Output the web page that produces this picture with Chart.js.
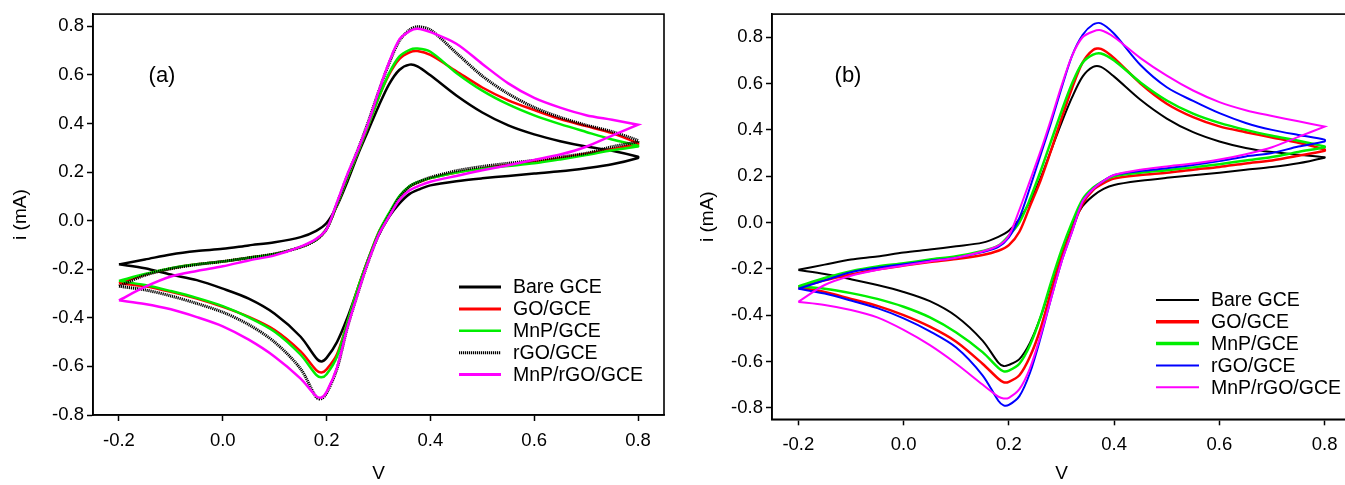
<!DOCTYPE html>
<html>
<head>
<meta charset="utf-8">
<script src="https://cdn.jsdelivr.net/npm/chart.js@4.4.1/dist/chart.umd.min.js"></script>
<style>
  html, body { margin: 0; padding: 0; background: #fff; overflow: hidden; }
  #wrap { position: relative; width: 1345px; height: 485px; overflow: hidden; }
  canvas { position: absolute; top: 0; }
  #cvA { left: 0; }
  #cvB { left: 680px; }
</style>
</head>
<body>
<div id="wrap">
  <canvas id="cvA" width="680" height="485"></canvas>
  <canvas id="cvB" width="680" height="485"></canvas>
</div>
<script>
// potential grid (V) for the anodic sweep and the return sweep
const potFwd = [-0.2, -0.15, -0.1, -0.05, 0, 0.05, 0.1, 0.15, 0.18, 0.2, 0.22, 0.24, 0.26, 0.28, 0.3, 0.32, 0.34, 0.36, 0.375, 0.4, 0.45, 0.5, 0.55, 0.6, 0.65, 0.7, 0.75, 0.8];
const potRev = [0.8, 0.75, 0.7, 0.65, 0.6, 0.55, 0.5, 0.45, 0.4, 0.38, 0.36, 0.34, 0.32, 0.3, 0.28, 0.26, 0.24, 0.22, 0.2, 0.19, 0.18, 0.15, 0.1, 0.05, 0, -0.05, -0.1, -0.15, -0.2];

const electrodes = ['Bare GCE', 'GO/GCE', 'MnP/GCE', 'rGO/GCE', 'MnP/rGO/GCE'];
const xTicks = [-0.2, 0, 0.2, 0.4, 0.6, 0.8];
const yTicksA = [-0.8, -0.6, -0.4, -0.2, 0, 0.2, 0.4, 0.6, 0.8];
const yTicksB = [-0.8, -0.6, -0.4, -0.2, 0, 0.2, 0.4, 0.6, 0.8];

// panel (a) currents, mA
const bareFwdA = [-0.18, -0.16, -0.139, -0.125, -0.116, -0.102, -0.089, -0.068, -0.042, -0.01, 0.06, 0.16, 0.27, 0.37, 0.47, 0.56, 0.62, 0.642, 0.635, 0.598, 0.515, 0.445, 0.392, 0.355, 0.327, 0.305, 0.288, 0.263];
const bareRevA = [0.258, 0.232, 0.216, 0.203, 0.194, 0.184, 0.174, 0.162, 0.145, 0.13, 0.11, 0.07, 0.015, -0.06, -0.16, -0.28, -0.4, -0.5, -0.565, -0.58, -0.566, -0.478, -0.383, -0.321, -0.28, -0.245, -0.222, -0.196, -0.18];
const goFwdA = [-0.258, -0.222, -0.197, -0.18, -0.168, -0.153, -0.137, -0.109, -0.079, -0.034, 0.065, 0.175, 0.28, 0.39, 0.505, 0.6, 0.665, 0.693, 0.698, 0.682, 0.615, 0.548, 0.495, 0.455, 0.418, 0.389, 0.36, 0.318];
const goRevA = [0.315, 0.295, 0.275, 0.257, 0.242, 0.229, 0.215, 0.198, 0.175, 0.16, 0.14, 0.095, 0.025, -0.05, -0.16, -0.28, -0.42, -0.55, -0.612, -0.625, -0.615, -0.538, -0.45, -0.396, -0.355, -0.321, -0.293, -0.27, -0.258];
const mnpFwdA = [-0.248, -0.22, -0.196, -0.18, -0.168, -0.153, -0.137, -0.109, -0.079, -0.034, 0.065, 0.175, 0.28, 0.39, 0.505, 0.605, 0.675, 0.703, 0.708, 0.695, 0.608, 0.535, 0.478, 0.433, 0.397, 0.365, 0.334, 0.308];
const mnpRevA = [0.305, 0.29, 0.27, 0.252, 0.236, 0.225, 0.214, 0.198, 0.175, 0.162, 0.142, 0.1, 0.03, -0.05, -0.16, -0.28, -0.42, -0.56, -0.632, -0.645, -0.635, -0.552, -0.457, -0.398, -0.352, -0.318, -0.29, -0.265, -0.248];
const rgoFwdA = [-0.27, -0.225, -0.198, -0.181, -0.168, -0.153, -0.137, -0.109, -0.079, -0.034, 0.07, 0.185, 0.29, 0.405, 0.53, 0.645, 0.74, 0.785, 0.798, 0.785, 0.69, 0.595, 0.522, 0.466, 0.425, 0.393, 0.366, 0.33];
const rgoRevA = [0.325, 0.304, 0.277, 0.262, 0.248, 0.236, 0.223, 0.205, 0.178, 0.162, 0.14, 0.095, 0.02, -0.06, -0.17, -0.3, -0.44, -0.61, -0.71, -0.733, -0.727, -0.61, -0.5, -0.428, -0.377, -0.341, -0.31, -0.285, -0.27];
const hybFwdA = [-0.328, -0.273, -0.23, -0.207, -0.188, -0.164, -0.143, -0.107, -0.075, -0.035, 0.075, 0.19, 0.29, 0.4, 0.53, 0.65, 0.745, 0.78, 0.79, 0.776, 0.728, 0.645, 0.565, 0.505, 0.465, 0.434, 0.415, 0.395];
const hybRevA = [0.395, 0.35, 0.304, 0.272, 0.25, 0.228, 0.207, 0.184, 0.16, 0.145, 0.125, 0.085, 0.015, -0.06, -0.17, -0.3, -0.44, -0.605, -0.705, -0.728, -0.722, -0.65, -0.56, -0.49, -0.435, -0.397, -0.365, -0.343, -0.328];

// panel (b) currents, mA
const bareFwdB = [-0.204, -0.182, -0.16, -0.147, -0.13, -0.117, -0.103, -0.087, -0.062, -0.036, 0.015, 0.09, 0.19, 0.31, 0.43, 0.54, 0.63, 0.672, 0.672, 0.63, 0.53, 0.449, 0.39, 0.35, 0.322, 0.304, 0.293, 0.282];
const bareRevB = [0.28, 0.256, 0.24, 0.228, 0.215, 0.204, 0.193, 0.18, 0.162, 0.145, 0.115, 0.07, -0.01, -0.13, -0.27, -0.41, -0.52, -0.59, -0.615, -0.62, -0.605, -0.51, -0.405, -0.34, -0.3, -0.27, -0.245, -0.222, -0.205];
const goFwdB = [-0.282, -0.25, -0.225, -0.203, -0.186, -0.171, -0.158, -0.14, -0.122, -0.098, -0.04, 0.07, 0.18, 0.31, 0.45, 0.58, 0.69, 0.745, 0.75, 0.71, 0.6, 0.513, 0.455, 0.415, 0.39, 0.367, 0.344, 0.315];
const goRevB = [0.31, 0.288, 0.268, 0.255, 0.24, 0.228, 0.215, 0.205, 0.19, 0.17, 0.14, 0.08, -0.03, -0.15, -0.3, -0.46, -0.58, -0.66, -0.688, -0.69, -0.675, -0.61, -0.515, -0.45, -0.4, -0.36, -0.33, -0.3, -0.282];
const mnpFwdB = [-0.276, -0.24, -0.21, -0.19, -0.176, -0.16, -0.146, -0.123, -0.1, -0.057, 0.0, 0.1, 0.22, 0.35, 0.48, 0.6, 0.69, 0.725, 0.73, 0.7, 0.605, 0.527, 0.47, 0.43, 0.4, 0.375, 0.353, 0.328];
const mnpRevB = [0.325, 0.305, 0.283, 0.268, 0.252, 0.238, 0.226, 0.215, 0.2, 0.18, 0.15, 0.1, 0.0, -0.12, -0.26, -0.41, -0.53, -0.61, -0.64, -0.643, -0.628, -0.56, -0.475, -0.41, -0.364, -0.33, -0.305, -0.286, -0.276];
const rgoFwdB = [-0.286, -0.25, -0.215, -0.195, -0.18, -0.165, -0.152, -0.128, -0.105, -0.064, 0.02, 0.15, 0.29, 0.43, 0.58, 0.72, 0.81, 0.855, 0.86, 0.815, 0.68, 0.584, 0.525, 0.472, 0.43, 0.4, 0.378, 0.358];
const rgoRevB = [0.35, 0.328, 0.3, 0.285, 0.265, 0.248, 0.234, 0.222, 0.205, 0.18, 0.145, 0.09, -0.04, -0.17, -0.33, -0.5, -0.65, -0.75, -0.788, -0.79, -0.77, -0.66, -0.54, -0.47, -0.414, -0.37, -0.337, -0.307, -0.286];
const hybFwdB = [-0.343, -0.27, -0.23, -0.205, -0.186, -0.168, -0.152, -0.125, -0.1, -0.057, 0.055, 0.18, 0.307, 0.445, 0.59, 0.72, 0.8, 0.825, 0.83, 0.8, 0.71, 0.634, 0.57, 0.52, 0.485, 0.46, 0.437, 0.414];
const hybRevB = [0.414, 0.37, 0.325, 0.295, 0.272, 0.255, 0.242, 0.228, 0.205, 0.18, 0.145, 0.09, -0.04, -0.17, -0.33, -0.49, -0.63, -0.72, -0.757, -0.76, -0.752, -0.7, -0.61, -0.53, -0.464, -0.41, -0.378, -0.356, -0.343];

const FONT = '"Liberation Sans", Arial, Helvetica, sans-serif';
Chart.defaults.font.family = FONT;
Chart.defaults.color = '#000';

// one closed voltammogram: forward sweep then return sweep
function loop(fwd, rev) {
  return potFwd.map((v, i) => ({ x: v, y: fwd[i] }))
    .concat(potRev.map((v, i) => ({ x: v, y: rev[i] })));
}

// frame box, panel tag and legend drawn straight on the canvas
const cvDecor = {
  id: 'cvDecor',
  afterDraw(chart, args, o) {
    const { ctx, chartArea: a } = chart;
    ctx.save();
    ctx.strokeStyle = '#000';
    ctx.lineWidth = 1.6;
    ctx.strokeRect(a.left, a.top, a.right - a.left, a.bottom - a.top);

    ctx.fillStyle = '#000';
    ctx.textBaseline = 'middle';
    ctx.textAlign = 'center';
    ctx.font = '22px ' + FONT;
    ctx.fillText(o.tag, o.tagX, o.tagY);

    ctx.textAlign = 'left';
    ctx.font = o.legendFont + 'px ' + FONT;
    chart.data.datasets.forEach((ds, i) => {
      const y = o.legendY + i * o.rowH;
      ctx.beginPath();
      ctx.setLineDash(ds.borderDash || []);
      ctx.lineWidth = ds.legendWidth;
      ctx.strokeStyle = ds.borderColor;
      ctx.moveTo(o.legendX, y);
      ctx.lineTo(o.legendX + o.lineLen, y);
      ctx.stroke();
      ctx.setLineDash([]);
      ctx.fillText(ds.label, o.legendX + o.lineLen + 12, y + 1);
    });
    ctx.restore();
  }
};

function axisStyle() {
  return {
    grid: { display: true, drawOnChartArea: false, drawTicks: true, tickLength: 6, tickColor: '#000', tickWidth: 1.5 },
    border: { display: true, color: '#000', width: 1.6 }
  };
}

function makePanel(id, sets, cfg) {
  return new Chart(document.getElementById(id), {
    type: 'scatter',
    data: {
      datasets: sets.map((s, i) => ({
        label: electrodes[i],
        data: loop(s.fwd, s.rev),
        showLine: true,
        borderColor: s.color,
        borderWidth: s.width,
        legendWidth: s.legendWidth,
        borderDash: s.dash || [],
        pointRadius: 0,
        tension: 0.3,
        fill: false,
        order: sets.length - i
      }))
    },
    options: {
      responsive: false,
      animation: false,
      devicePixelRatio: 1,
      layout: { padding: cfg.padding },
      plugins: {
        legend: { display: false },
        tooltip: { enabled: false },
        cvDecor: cfg.decor
      },
      scales: {
        x: {
          type: 'linear', min: -0.25, max: 0.85,
          afterBuildTicks: s => { s.ticks = xTicks.map(v => ({ value: v })); },
          afterFit: s => { s.height = cfg.xAxisH; },
          ticks: { callback: v => v.toFixed(1), font: { size: 18.5 }, color: '#000', padding: 9, maxRotation: 0, autoSkip: false },
          title: { display: true, text: 'V', font: { size: 19 }, color: '#000', padding: { top: 0, bottom: 0 } },
          ...axisStyle()
        },
        y: {
          type: 'linear', min: cfg.yMin, max: cfg.yMax,
          afterBuildTicks: s => { s.ticks = cfg.yTicks.map(v => ({ value: v })); },
          afterFit: s => { s.width = cfg.yAxisW; },
          ticks: { callback: v => v.toFixed(1), font: { size: 18.5 }, color: '#000', padding: 3, autoSkip: false },
          title: { display: true, text: 'i (mA)', font: { size: 19 }, color: '#000', padding: { top: cfg.yTitlePad, bottom: 0 } },
          ...axisStyle()
        }
      }
    },
    plugins: [cvDecor]
  });
}

makePanel('cvA', [
  { fwd: bareFwdA, rev: bareRevA, color: '#000000', width: 2.5, legendWidth: 3 },
  { fwd: goFwdA, rev: goRevA, color: '#ff0000', width: 2.5, legendWidth: 3 },
  { fwd: mnpFwdA, rev: mnpRevA, color: '#00ee00', width: 2.5, legendWidth: 2.5 },
  { fwd: rgoFwdA, rev: rgoRevA, color: '#000000', width: 3, legendWidth: 3, dash: [1.2, 0.8] },
  { fwd: hybFwdA, rev: hybRevA, color: '#ff00ff', width: 2.5, legendWidth: 3 }
], {
  padding: { left: 0, right: 16, top: 12.5, bottom: 0 },
  xAxisH: 70, yAxisW: 93, yMin: -0.8, yMax: 0.85, yTicks: yTicksA, yTitlePad: 9,
  decor: { tag: '(a)', tagX: 162, tagY: 76, legendX: 459, legendY: 287, rowH: 21.9, lineLen: 42, legendFont: 19.5 }
});

makePanel('cvB', [
  { fwd: bareFwdB, rev: bareRevB, color: '#000000', width: 2, legendWidth: 2 },
  { fwd: goFwdB, rev: goRevB, color: '#ff0000', width: 2.5, legendWidth: 3.5 },
  { fwd: mnpFwdB, rev: mnpRevB, color: '#00ee00', width: 2.5, legendWidth: 3.5 },
  { fwd: rgoFwdB, rev: rgoRevB, color: '#0000ff', width: 2, legendWidth: 2 },
  { fwd: hybFwdB, rev: hybRevB, color: '#ff00ff', width: 2, legendWidth: 2 }
], {
  padding: { left: 0, right: 9, top: 10.7, bottom: 0 },
  xAxisH: 65.7, yAxisW: 92, yMin: -0.85, yMax: 0.9, yTicks: yTicksB, yTitlePad: 16,
  decor: { tag: '(b)', tagX: 168, tagY: 76, legendX: 476, legendY: 300, rowH: 21.8, lineLen: 43, legendFont: 19.5 }
});
</script>
</body>
</html>
